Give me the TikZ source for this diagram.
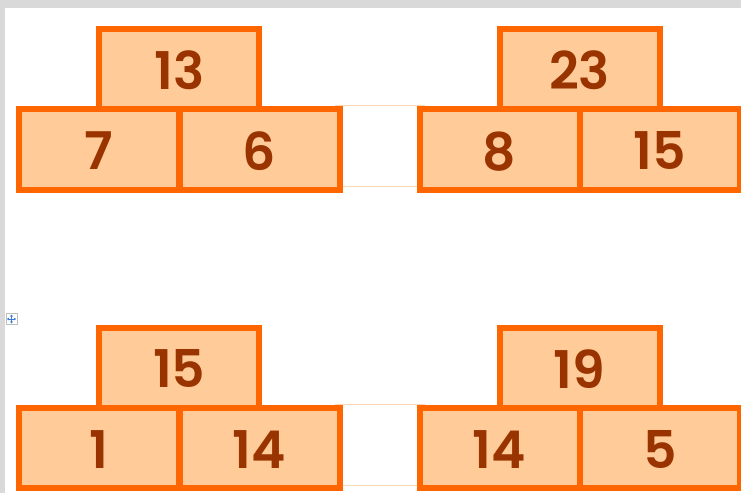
\documentclass[tikz,border=0pt]{standalone}
\usepackage{fontspec}
\usetikzlibrary{arrows.meta}
\setmainfont{Poppins}[BoldFont={Poppins SemiBold}]
\definecolor{cellfill}{HTML}{FFCC99}
\definecolor{cellline}{HTML}{FF6600}
\definecolor{numcol}{HTML}{993300}
\definecolor{gridfaint}{HTML}{FCD6B2}
\definecolor{chrome}{HTML}{D9D9D9}
\definecolor{iconblue}{HTML}{3C78D8}
\begin{document}
\begin{tikzpicture}[x=1pt,y=-1pt,
  cell/.style={draw=cellline,fill=cellfill,line width=6pt,rectangle,
    minimum width=160pt,minimum height=80.5pt,inner sep=0pt,outer sep=0pt,
    text=numcol,font=\fontsize{52}{52}\selectfont\bfseries,text depth=0pt},
  faint/.style={draw=gridfaint,line width=1pt},
  handarrow/.style={iconblue,line width=1pt,-{Stealth[length=2.2pt,width=3pt]}}]
\useasboundingbox (0,0) rectangle (741,493);
\fill[white] (0,0) rectangle (741,493);
\fill[chrome] (0,0) rectangle (741,8);
\fill[chrome] (0,0) rectangle (5,493);
% faint table lines
\foreach \dy in {0,298.5}{
  \draw[faint] (335,105.5+\dy) -- (425,105.5+\dy);
  \draw[faint] (335,186.5+\dy) -- (425,186.5+\dy);
}
% move handle icon
\node[draw=gray!50,fill=white,line width=0.6pt,minimum size=11pt,inner sep=0pt] (handle) at (11.5,319) {};
\draw[handarrow] (handle.center) -- ++(0,-4.5);
\draw[handarrow] (handle.center) -- ++(0,4.5);
\draw[handarrow] (handle.center) -- ++(-4.5,0);
\draw[handarrow] (handle.center) -- ++(4.5,0);
% pyramids
\newcommand{\pyr}[6]{%
  \begin{scope}[shift={(#1,#2)}]
    \node[cell] (#3l) at (99.2,149.5) {\raisebox{-2.5pt}{#5}};
    \node[cell] (#3r) at (259.5,149.5) {\raisebox{-2.5pt}{#6}};
    \node[cell,minimum height=80pt] (#3t) at (179.2,69) {\raisebox{-2.5pt}{#4}};
  \end{scope}}
\pyr{0}{0}{a}{13}{7}{6}
\pyr{400.3}{0}{b}{23}{8}{15}
\pyr{0}{298.5}{c}{15}{1}{14}
\pyr{400.3}{298.5}{d}{19}{14}{5}
\end{tikzpicture}
\end{document}
